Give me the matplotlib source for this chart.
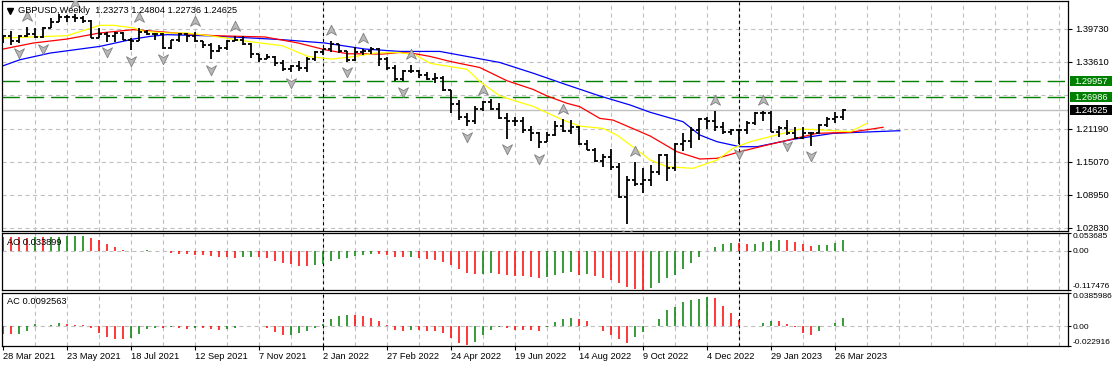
import numpy as np
import matplotlib.pyplot as plt
import matplotlib.transforms as mtransforms
from matplotlib.collections import LineCollection
from matplotlib.patches import Rectangle
from matplotlib.path import Path

plt.rcParams['font.family'] = ['Liberation Sans', 'DejaVu Sans']
plt.rcParams['lines.scale_dashes'] = False

# ---- data (weekly GBPUSD, 28 Mar 2021 .. 2 Apr 2023) ----
date_labels = ["28 Mar 2021", "23 May 2021", "18 Jul 2021", "12 Sep 2021", "7 Nov 2021",
               "2 Jan 2022", "27 Feb 2022", "24 Apr 2022", "19 Jun 2022", "14 Aug 2022",
               "9 Oct 2022", "4 Dec 2022", "29 Jan 2023", "26 Mar 2023"]

opens = [1.3790, 1.3830, 1.3735, 1.3840, 1.3880, 1.3820, 1.3990, 1.4100, 1.4180, 1.4190,
         1.4160, 1.4110, 1.3800, 1.3880, 1.3830, 1.3890, 1.3760, 1.3750, 1.3900, 1.3880,
         1.3870, 1.3620, 1.3760, 1.3870, 1.3830, 1.3740, 1.3670, 1.3550, 1.3620, 1.3740,
         1.3760, 1.3680, 1.3500, 1.3410, 1.3440, 1.3330, 1.3230, 1.3270, 1.3240, 1.3400,
         1.3530, 1.3590, 1.3680, 1.3550, 1.3390, 1.3530, 1.3560, 1.3590, 1.3400, 1.3250,
         1.3030, 1.3180, 1.3190, 1.3110, 1.3030, 1.3060, 1.2830, 1.2570, 1.2330, 1.2260,
         1.2490, 1.2620, 1.2490, 1.2310, 1.2260, 1.2260, 1.2090, 1.2030, 1.1870, 1.2000,
         1.2160, 1.2070, 1.2140, 1.1830, 1.1730, 1.1510, 1.1590, 1.1410, 1.0850, 1.1165,
         1.1090, 1.1170, 1.1310, 1.1620, 1.1380, 1.1840, 1.1890, 1.2090, 1.2290, 1.2260,
         1.2140, 1.2050, 1.2100, 1.2090, 1.2230, 1.2400, 1.2400, 1.2050, 1.2120, 1.2030,
         1.1940, 1.2040, 1.2030, 1.2180, 1.2290, 1.23273]
highs = [1.3860, 1.3919, 1.3845, 1.4010, 1.3980, 1.4000, 1.4170, 1.4235, 1.4220, 1.4250,
         1.4200, 1.4130, 1.3980, 1.3910, 1.3900, 1.3910, 1.3790, 1.3980, 1.3950, 1.3890,
         1.3890, 1.3770, 1.3890, 1.3890, 1.3910, 1.3750, 1.3710, 1.3670, 1.3770, 1.3830,
         1.3830, 1.3700, 1.3510, 1.3510, 1.3460, 1.3390, 1.3290, 1.3370, 1.3440, 1.3550,
         1.3600, 1.3750, 1.3690, 1.3560, 1.3630, 1.3600, 1.3640, 1.3620, 1.3440, 1.3290,
         1.3200, 1.3300, 1.3200, 1.3160, 1.3150, 1.3090, 1.2840, 1.2640, 1.2400, 1.2530,
         1.2630, 1.2670, 1.2600, 1.2410, 1.2330, 1.2330, 1.2170, 1.2050, 1.2060, 1.2250,
         1.2290, 1.2280, 1.2160, 1.1900, 1.1760, 1.1650, 1.1740, 1.1480, 1.1230, 1.1500,
         1.1380, 1.1440, 1.1640, 1.1650, 1.1860, 1.2030, 1.2150, 1.2310, 1.2340, 1.2446,
         1.2240, 1.2110, 1.2110, 1.2250, 1.2430, 1.2448, 1.2450, 1.2160, 1.2270, 1.2150,
         1.2140, 1.2050, 1.2200, 1.2340, 1.2420, 1.24804]
lows = [1.3700, 1.3670, 1.3710, 1.3820, 1.3790, 1.3800, 1.3990, 1.4090, 1.4100, 1.4090,
        1.4080, 1.3790, 1.3790, 1.3730, 1.3730, 1.3760, 1.3570, 1.3750, 1.3860, 1.3760,
        1.3600, 1.3600, 1.3730, 1.3730, 1.3730, 1.3610, 1.3410, 1.3540, 1.3570, 1.3740,
        1.3670, 1.3420, 1.3350, 1.3400, 1.3280, 1.3190, 1.3160, 1.3190, 1.3170, 1.3380,
        1.3490, 1.3540, 1.3520, 1.3360, 1.3380, 1.3490, 1.3510, 1.3270, 1.3200, 1.3000,
        1.3000, 1.3140, 1.3050, 1.3010, 1.2970, 1.2820, 1.2410, 1.2280, 1.2160, 1.2200,
        1.2450, 1.2460, 1.2300, 1.1930, 1.2160, 1.2040, 1.1880, 1.1760, 1.1870, 1.1980,
        1.2060, 1.2010, 1.1810, 1.1720, 1.1500, 1.1410, 1.1350, 1.0840, 1.0350, 1.1060,
        1.0920, 1.1060, 1.1260, 1.1150, 1.1330, 1.1710, 1.1760, 1.1900, 1.2110, 1.2080,
        1.2020, 1.1990, 1.1840, 1.2010, 1.2190, 1.2260, 1.2050, 1.1960, 1.1990, 1.1920,
        1.1920, 1.1800, 1.2010, 1.2150, 1.2230, 1.22736]
closes = [1.3830, 1.3735, 1.3840, 1.3880, 1.3820, 1.3990, 1.4100, 1.4180, 1.4190, 1.4160,
          1.4110, 1.3800, 1.3880, 1.3830, 1.3890, 1.3760, 1.3750, 1.3900, 1.3880, 1.3870,
          1.3620, 1.3760, 1.3870, 1.3830, 1.3740, 1.3670, 1.3550, 1.3620, 1.3740, 1.3760,
          1.3680, 1.3500, 1.3410, 1.3440, 1.3330, 1.3230, 1.3270, 1.3240, 1.3400, 1.3530,
          1.3590, 1.3680, 1.3550, 1.3390, 1.3530, 1.3560, 1.3590, 1.3400, 1.3250, 1.3030,
          1.3180, 1.3190, 1.3110, 1.3030, 1.3060, 1.2830, 1.2570, 1.2330, 1.2260, 1.2490,
          1.2620, 1.2490, 1.2310, 1.2260, 1.2260, 1.2090, 1.2030, 1.1870, 1.2000, 1.2160,
          1.2070, 1.2140, 1.1830, 1.1730, 1.1510, 1.1590, 1.1410, 1.0850, 1.1165, 1.1090,
          1.1170, 1.1310, 1.1620, 1.1380, 1.1840, 1.1890, 1.2090, 1.2290, 1.2260, 1.2140,
          1.2050, 1.2100, 1.2090, 1.2230, 1.2400, 1.2400, 1.2050, 1.2120, 1.2030, 1.1940,
          1.2040, 1.2030, 1.2180, 1.2290, 1.2330, 1.24625]

# Alligator lines (bar index, price)
jaw_idx = [0, 2.1, 5.9, 12.1, 16.3, 18.4, 20.5, 26.4, 34.9, 40.25, 45.25, 49.6, 54.6, 58,
           62.1, 66.25, 70.5, 74.6, 78.4, 80.9, 85, 87.1, 89.25, 92.1, 94.25, 98.75, 103.75, 112.1]
jaw_val = [1.3282, 1.3394, 1.3519, 1.3642, 1.3779, 1.3828, 1.3860, 1.3835, 1.3767, 1.3705,
           1.3593, 1.3549, 1.3549, 1.3456, 1.3344, 1.3146, 1.2928, 1.2723, 1.2555, 1.2420,
           1.2246, 1.1999, 1.1875, 1.1782, 1.1782, 1.1919, 1.2030, 1.2079]
teeth_idx = [0, 3.8, 8, 12.1, 16.3, 20.5, 26.3, 32.75, 36.9, 40.25, 43.1, 47.4, 49.6, 51.5,
             53.4, 55.9, 59.6, 63, 66.25, 68, 70.5, 72.1, 74.6, 76.25, 80.9, 84.25, 87.1,
             89.25, 92.1, 95.5, 99.6, 101.75, 105.9, 110]
teeth_val = [1.3593, 1.3705, 1.3779, 1.3891, 1.3953, 1.3903, 1.3841, 1.3817, 1.3705, 1.3580,
             1.3506, 1.3500, 1.3530, 1.3506, 1.3456, 1.3363, 1.3250, 1.3005, 1.2845, 1.2723,
             1.2587, 1.2524, 1.2307, 1.2276, 1.1980, 1.1689, 1.1554, 1.1567, 1.1689, 1.1813,
             1.1956, 1.2030, 1.2049, 1.2142]
lips_idx = [0, 8, 12.1, 13.8, 16.3, 17.6, 20.5, 23, 26.3, 30.6, 34.9, 38.1, 41.1, 44, 46.5,
            49.4, 51.5, 53.4, 58, 59.6, 62.1, 63, 66.25, 70, 72.1, 75, 76.75, 78.75, 80.9,
            83, 86.25, 89.25, 91.25, 93.4, 97.5, 99.6, 102.5, 105.9, 108]
lips_val = [1.3798, 1.3841, 1.4033, 1.4033, 1.3985, 1.3921, 1.3891, 1.3891, 1.3830, 1.3735,
            1.3655, 1.3456, 1.3407, 1.3456, 1.3519, 1.3530, 1.3487, 1.3327, 1.3218, 1.2990,
            1.2723, 1.2680, 1.2530, 1.2276, 1.2164, 1.2121, 1.1996, 1.1778, 1.1535, 1.1411,
            1.1381, 1.1535, 1.1752, 1.1875, 1.2030, 1.2110, 1.2092, 1.2060, 1.2216]

fractal_up = [3, 9, 17, 24, 29, 41, 45, 51, 60, 70, 79, 89, 95]
fractal_down = [2, 5, 13, 16, 20, 26, 36, 43, 50, 58, 63, 67, 78, 92, 98, 101]

levels = [1.29957, 1.26986]
bid = 1.24625
price_ticks = [1.39730, 1.33610, 1.21190, 1.15070, 1.08950, 1.02830]
price_grid = [1.39730, 1.33610, 1.27400, 1.21190, 1.15070, 1.08950, 1.02830]

ao = [0.043, 0.042, 0.041, 0.040, 0.042, 0.041, 0.042, 0.043, 0.044, 0.045,
      0.046, 0.039, 0.032, 0.021, 0.011, 0.003, 0.0005, 0.001, 0.0012, 0.0008,
      -0.001, -0.006, -0.008, -0.009, -0.012, -0.013, -0.015, -0.017, -0.019, -0.020,
      -0.019, -0.018, -0.019, -0.021, -0.030, -0.035, -0.040, -0.044, -0.045, -0.043,
      -0.038, -0.030, -0.024, -0.020, -0.016, -0.012, -0.009, -0.010, -0.013, -0.017,
      -0.019, -0.018, -0.020, -0.024, -0.027, -0.032, -0.042, -0.055, -0.066, -0.070,
      -0.068, -0.066, -0.068, -0.072, -0.074, -0.076, -0.078, -0.080, -0.078, -0.072,
      -0.066, -0.062, -0.072, -0.070, -0.074, -0.080, -0.087, -0.095, -0.109, -0.113,
      -0.117, -0.112, -0.097, -0.082, -0.072, -0.054, -0.037, -0.017, 0.001, 0.013,
      0.021, 0.025, 0.024, 0.021, 0.022, 0.026, 0.030, 0.033, 0.032, 0.026,
      0.020, 0.015, 0.018, 0.019, 0.025, 0.033899]
ac = [-0.0087, -0.0095, -0.0087, -0.0060, 0.0026, 0.0008, 0.0012, 0.0040, 0.0026, 0.0020,
      0.0010, -0.0020, -0.0075, -0.0125, -0.0150, -0.0152, -0.0140, -0.0095, -0.0030, -0.0023,
      -0.0025, -0.0010, -0.0019, -0.0030, -0.0020, -0.0025, -0.0030, -0.0038, -0.0030, -0.0020,
      0.0003, 0.0006, 0.0002, -0.0020, -0.0070, -0.0105, -0.0100, -0.0080, -0.0060, -0.0020,
      0.0030, 0.0090, 0.0120, 0.0130, 0.0130, 0.0120, 0.0100, 0.0060, 0.0010, -0.0040,
      -0.0060, -0.0040, -0.0040, -0.0050, -0.0060, -0.0080, -0.0140, -0.0200, -0.0220, -0.0180,
      -0.0100, -0.0040, -0.0010, -0.0020, -0.0040, -0.0040, -0.0040, -0.0050, -0.0010, 0.0050,
      0.0090, 0.0100, 0.0080, 0.0064, 0.0000, -0.0050, -0.0098, -0.0143, -0.0190, -0.0125,
      -0.0068, 0.0008, 0.0083, 0.0185, 0.0220, 0.0280, 0.0310, 0.0312, 0.0336, 0.0325,
      0.0240, 0.0150, 0.0075, 0.0003, 0.0002, 0.0038, 0.0064, 0.0063, 0.0026, -0.0010,
      -0.0075, -0.0098, -0.0057, 0.0000, 0.0038, 0.0092563]
ao_range = (-0.117476, 0.053685)
ac_range = (-0.022916, 0.0385986)

# ---- layout ----
W, H = 1114, 368
FS = 6.7
FS_SUB = 6.0
GRID = '#c0c0c0'
GREEN = '#008000'


def box(x0, y0, x1, y1):
    return [x0 / W, 1 - y1 / H, (x1 - x0) / W, (y1 - y0) / H]


fig = plt.figure(figsize=(W / 100, H / 100), dpi=100)
ax = fig.add_axes(box(2, 1, 1068, 231))
ax_ao = fig.add_axes(box(2, 233, 1068, 290))
ax_ac = fig.add_axes(box(2, 293, 1068, 346))

n = len(closes)
idx = np.arange(n)
xlim = (-0.125, 133.125)

for a in (ax, ax_ao, ax_ac):
    a.set_xlim(*xlim)
    for s in a.spines.values():
        s.set_linewidth(0.9)
        s.set_color('black')
    for k in range(4, 134, 4):
        a.axvline(k, color=GRID, lw=0.8, dashes=(3, 2.5), zorder=0.5)
    for k in (40, 92):
        a.axvline(k, color='black', lw=0.8, dashes=(2.2, 2.2), zorder=1.5)
    a.yaxis.tick_right()
    a.tick_params(axis='y', length=3, width=0.8, pad=2, labelsize=FS, colors='black')
    a.tick_params(axis='x', bottom=False, labelbottom=False)

# ---- main price panel ----
ax.set_ylim(1.0219, 1.4484)
for v in price_grid:
    ax.axhline(v, color=GRID, lw=0.8, dashes=(3, 2.5), zorder=0.5)
for v in levels:
    ax.axhline(v, color=GREEN, lw=1.0, dashes=(12.5, 5), zorder=1)
ax.axhline(bid, color=GRID, lw=1.0, zorder=1)

ax.plot(jaw_idx, jaw_val, color='#0000ff', lw=0.9, zorder=2)
ax.plot(teeth_idx, teeth_val, color='#ff0000', lw=0.9, zorder=2)
ax.plot(lips_idx, lips_val, color='#ffff00', lw=0.9, zorder=2)

segs = []
for i in range(n):
    segs.append([(i, lows[i]), (i, highs[i])])
    segs.append([(i - 0.4, opens[i]), (i, opens[i])])
    segs.append([(i, closes[i]), (i + 0.4, closes[i])])
ax.add_collection(LineCollection(segs, colors='black', linewidths=1.3, zorder=3))

up_arrow = Path([(0, 1), (0.8, -0.6), (0, -0.15), (-0.8, -0.6), (0, 1)],
                [Path.MOVETO, Path.LINETO, Path.LINETO, Path.LINETO, Path.CLOSEPOLY])
down_arrow = Path([(0, -1), (0.8, 0.6), (0, 0.15), (-0.8, 0.6), (0, -1)],
                  [Path.MOVETO, Path.LINETO, Path.LINETO, Path.LINETO, Path.CLOSEPOLY])
up_tr = mtransforms.offset_copy(ax.transData, fig=fig, y=7, units='points')
dn_tr = mtransforms.offset_copy(ax.transData, fig=fig, y=-7, units='points')
ax.plot(fractal_up, [highs[i] for i in fractal_up], ls='none', marker=up_arrow, ms=9,
        mfc='#b8b8b8', mec='#808080', mew=0.6, transform=up_tr, zorder=4)
ax.plot(fractal_down, [lows[i] for i in fractal_down], ls='none', marker=down_arrow, ms=9,
        mfc='#b8b8b8', mec='#808080', mew=0.6, transform=dn_tr, zorder=4)

ax.set_yticks(price_ticks)
ax.set_yticklabels([f'{v:.5f}' for v in price_ticks])

blend = mtransforms.blended_transform_factory(ax.transAxes, ax.transData)
px_y = (1.4484 - 1.0219) / 230.0
for v, fc in [(levels[0], GREEN), (levels[1], GREEN), (bid, 'black')]:
    ax.add_patch(Rectangle((1.0019, v - 4.8 * px_y), 42 / 1066, 9.6 * px_y, transform=blend,
                           facecolor=fc, edgecolor='none', clip_on=False, zorder=5))
    ax.text(1.0058, v, f'{v:.5f}', transform=blend, ha='left', va='center', fontsize=FS,
            color='white', clip_on=False, zorder=6)

ax.plot([0.0075], [0.9565], marker='v', ms=4.5, color='black', transform=ax.transAxes,
        clip_on=False, zorder=6)
ax.text(0.015, 0.958, 'GBPUSD,Weekly  1.23273 1.24804 1.22736 1.24625', transform=ax.transAxes,
        ha='left', va='center', fontsize=FS, color='black', zorder=6)

# ---- AO / AC panels ----
def hist_colors(vals):
    cols = ['#ff0000']
    for j in range(1, len(vals)):
        cols.append(GREEN if vals[j] > vals[j - 1] else '#ff0000')
    return cols


for a, vals, rng, name, lab in [(ax_ao, ao, ao_range, 'AO', 'AO 0.033899'),
                                (ax_ac, ac, ac_range, 'AC', 'AC 0.0092563')]:
    a.set_ylim(*rng)
    a.axhline(0, color=GRID, lw=0.8, dashes=(3, 2.5), zorder=0.5)
    a.vlines(idx, 0, vals, colors=hist_colors(vals), lw=1.1, zorder=2)
    a.set_yticks([rng[1], 0.0, rng[0]])
    top_lab = f'{rng[1]:.6f}' if name == 'AO' else f'{rng[1]:.7f}'
    a.set_yticklabels([top_lab, '0.00', f'{rng[0]:.6f}'])
    a.tick_params(axis='y', length=2, pad=1.2, labelsize=FS_SUB)
    tl = a.get_yticklabels()
    tl[0].set_va('top')
    tl[2].set_va('bottom')
    a.text(0.005, 0.84, lab, transform=a.transAxes, ha='left', va='center',
           fontsize=FS, color='black', zorder=6)

ax_ac.set_xticks(range(0, 105, 8))
ax_ac.set_xticklabels(date_labels, ha='left')
ax_ac.tick_params(axis='x', bottom=True, labelbottom=True, length=3, width=0.8, pad=1.5,
                  labelsize=FS, colors='black')

fig.savefig('out.png', dpi=100, facecolor='white')
